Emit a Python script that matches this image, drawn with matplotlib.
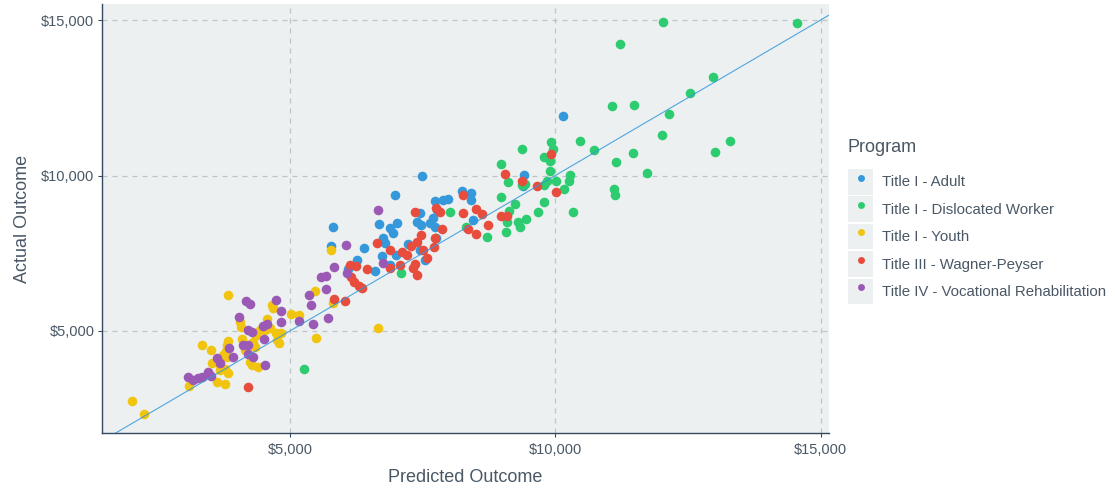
import matplotlib
matplotlib.use("Agg")
import matplotlib.pyplot as plt
from matplotlib.lines import Line2D
from matplotlib.patches import Rectangle
from matplotlib.legend_handler import HandlerTuple
from matplotlib.ticker import FuncFormatter

plt.rcParams["font.family"] = ["Liberation Sans", "DejaVu Sans"]

# --- data (predicted, actual) ---
adult_pred = [10150, 9420, 9390, 8240, 8410, 8410, 7980, 7730, 7770, 7700, 7730, 8460,
              7750, 7490, 6980, 5820, 5770, 6400, 6260, 6100, 6600, 6680, 6760, 6890,
              7010, 6950, 6730, 7000, 6890, 7230, 7450, 7390, 7480, 7890, 7550, 7450,
              7640, 6790]
adult_act = [11930, 10030, 9650, 9510, 9450, 9220, 9240, 9190, 8900, 8630, 8360, 8570,
             7990, 10000, 9360, 8340, 7740, 7660, 7290, 7000, 6940, 8450, 7990, 8310,
             8470, 8150, 7420, 7450, 7130, 7790, 8790, 8520, 8410, 9220, 7290, 7610,
             8470, 7840]

dislocated_pred = [12040, 14550, 11230, 12980, 12540, 11070, 11480, 12140, 12010, 13290,
                   13020, 10460, 10730, 11460, 11140, 11730, 11110, 11130, 10340, 9930,
                   9950, 9790, 9900, 9380, 8980, 9910, 10280, 10260, 10170, 10010, 9840,
                   9790, 9120, 9370, 9430, 8980, 9250, 9130, 9790, 9680, 9300, 9450,
                   9340, 9100, 9070, 8720, 8320, 8020, 7090, 5260]
dislocated_act = [14940, 14910, 14230, 13180, 12650, 12240, 12280, 11970, 11300, 11120,
                  10770, 11120, 10830, 10730, 10430, 10070, 9580, 9360, 8820, 11080,
                  10860, 10610, 10470, 10860, 10370, 10130, 10030, 9810, 9570, 9810, 9830,
                  9690, 9780, 9700, 9720, 9320, 9090, 8870, 9140, 8830, 8520, 8610,
                  8360, 8490, 8190, 8030, 8360, 8820, 6880, 3770]

youth_pred = [3840, 4660, 4690, 5030, 5170, 5470, 5810, 5770, 6660, 5490, 4560, 4060,
              4080, 4440, 4530, 4740, 4840, 4760, 4800, 4090, 4310, 4340, 4370, 3840,
              3820, 3340, 3510, 3790, 3740, 3810, 4250, 4280, 4400, 3540, 3680, 3680,
              3780, 3830, 3620, 3780, 3090, 2030, 2250, 4150, 4620]
youth_act = [6160, 5850, 5740, 5550, 5520, 6270, 5890, 7610, 5090, 4760, 5380, 5300,
             5140, 5020, 5030, 4930, 4950, 4710, 4600, 4730, 4660, 4490, 4870, 4690,
             4550, 4550, 4390, 4360, 4230, 4160, 4010, 3910, 3850, 3980, 3910, 3740,
             3770, 3640, 3370, 3310, 3230, 2750, 2330, 4390, 5100]

wagner_pred = [9930, 9050, 9370, 9660, 10010, 8260, 8260, 8500, 8630, 8980, 9100, 8740,
               8360, 8500, 7750, 7830, 7860, 7730, 7350, 7480, 7390, 7280, 7120, 7210,
               6890, 6650, 7510, 7580, 7360, 7320, 7390, 7070, 6880, 6450, 6250, 6130,
               6160, 6210, 6300, 6360, 5840, 6040, 4210, 7710]
wagner_act = [10700, 10040, 9810, 9650, 9470, 9360, 8790, 8930, 8760, 8710, 8710, 8400,
              8280, 8120, 8950, 8820, 8270, 7990, 8830, 8080, 7870, 7740, 7550, 7450,
              7620, 7830, 7610, 7350, 7170, 7010, 6790, 7110, 7010, 7000, 7090, 7110,
              6750, 6580, 6450, 6370, 6020, 5970, 3190, 7710]

vocrehab_pred = [6670, 6060, 5840, 6070, 6760, 5580, 5680, 5680, 5360, 5400, 5710, 5440,
                 5180, 4840, 4840, 4740, 4180, 4250, 4040, 4560, 4490, 4210, 4280, 4520,
                 4120, 4210, 3860, 4210, 4310, 4540, 3930, 3620, 3680, 3460, 3520, 3340,
                 3270, 3080, 3180]
vocrehab_act = [8900, 7770, 7060, 6880, 7190, 6730, 6760, 6340, 6160, 5830, 5410, 5220,
                5330, 5630, 5300, 6010, 5970, 5880, 5460, 5230, 5160, 5030, 4970, 4730,
                4550, 4550, 4440, 4260, 4150, 3910, 4170, 4120, 3960, 3690, 3550, 3530,
                3480, 3530, 3420]

programs = ["Title I - Adult", "Title I - Dislocated Worker", "Title I - Youth",
            "Title III - Wagner-Peyser", "Title IV - Vocational Rehabilitation"]
colors = ["#3498DB", "#2ECC71", "#F1C40F", "#E74C3C", "#9B59B6"]
series = [(adult_pred, adult_act), (dislocated_pred, dislocated_act),
          (youth_pred, youth_act), (wagner_pred, wagner_act),
          (vocrehab_pred, vocrehab_act)]

xticks = [5000, 10000, 15000]
yticks = [5000, 10000, 15000]
x_range = (1460, 15160)
y_range = (1716, 15520)

PANEL = "#ECF0F1"
AXIS = "#34495E"
TEXT = "#4A5866"

fig = plt.figure(figsize=(11.15, 4.91), dpi=100)
ax = fig.add_axes([0.0915, 0.118, 0.652, 0.874])
ax.set_facecolor(PANEL)

for (px, py), c in zip(series, colors):
    ax.scatter(px, py, s=48, color=c, linewidths=0, zorder=3)

# identity line y = x
ax.axline((0, 0), slope=1, color="#3498DB", linewidth=0.8, alpha=0.85, zorder=4)

ax.set_xlim(*x_range)
ax.set_ylim(*y_range)
ax.set_xticks(xticks)
ax.set_yticks(yticks)
money = FuncFormatter(lambda v, p: f"${v:,.0f}")
ax.xaxis.set_major_formatter(money)
ax.yaxis.set_major_formatter(money)
ax.grid(True, color="#BDC3C7", linestyle=(0, (4, 4)), linewidth=0.9, zorder=1)
ax.set_axisbelow(True)

for side in ["top", "right"]:
    ax.spines[side].set_visible(False)
for side in ["left", "bottom"]:
    ax.spines[side].set_color(AXIS)
    ax.spines[side].set_linewidth(1.0)
ax.tick_params(colors=AXIS, labelcolor=TEXT, labelsize=10.5, length=3, width=0.8)
ax.tick_params(axis="x", pad=4)
ax.tick_params(axis="y", pad=2.5)

ax.set_xlabel("Predicted Outcome", fontsize=13, color=TEXT, labelpad=9)
ax.set_ylabel("Actual Outcome", fontsize=13, color=TEXT, labelpad=7)

# legend: gray key boxes with a dot, title placed on its own
handles = []
for c in colors:
    box = Rectangle((0, 0), 1, 1, facecolor=PANEL, edgecolor="none")
    dot = Line2D([], [], marker="o", linestyle="none", markersize=5,
                 markerfacecolor=c, markeredgewidth=0)
    handles.append((box, dot))

fig.text(0.7605, 0.699, "Program", fontsize=13, color=TEXT, ha="left", va="center")
fig.legend(handles, programs, loc="upper left",
           bbox_to_anchor=(0.7605, 0.656), frameon=False,
           handler_map={tuple: HandlerTuple(ndivide=1)},
           handlelength=1.7, handleheight=2.25, handletextpad=0.55,
           labelspacing=0.12, fontsize=10.8, labelcolor=TEXT,
           borderaxespad=0, borderpad=0)

fig.savefig("out.png", dpi=100)
